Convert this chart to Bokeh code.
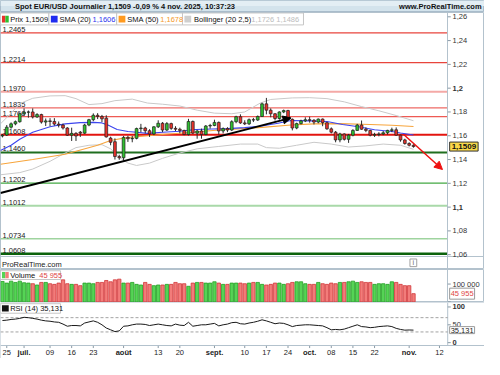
import pandas as pd
from bokeh.plotting import figure
from bokeh.layouts import column
from bokeh.models import Range1d, Label, Arrow, NormalHead, BoxAnnotation, ColumnDataSource
from bokeh.core.properties import value
from bokeh.embed import file_html
from bokeh.resources import INLINE

FONT = "Liberation Sans"
FS = "7.5px"

# ---------------- data ----------------
first_day = "2025-06-24"
axis_last_day = "2025-11-14"

opens = [1.1598, 1.1606, 1.1672, 1.1700, 1.1718, 1.1785, 1.1798, 1.1800, 1.1758, 1.1778,
         1.1715, 1.1725, 1.1720, 1.1698, 1.1690, 1.1665, 1.1605, 1.1620, 1.1630, 1.1622,
         1.1690, 1.1735, 1.1772, 1.1762, 1.1748, 1.1580, 1.1550, 1.1425, 1.1415, 1.1586,
         1.1575, 1.1578, 1.1660, 1.1665, 1.1642, 1.1615, 1.1675, 1.1705, 1.1648, 1.1702,
         1.1662, 1.1655, 1.1645, 1.1610, 1.1720, 1.1622, 1.1640, 1.1610, 1.1682, 1.1686,
         1.1712, 1.1640, 1.1660, 1.1648, 1.1718, 1.1760, 1.1708, 1.1700, 1.1735, 1.1732,
         1.1762, 1.1868, 1.1815, 1.1785, 1.1745, 1.1800, 1.1812, 1.1738, 1.1665, 1.1702,
         1.1725, 1.1735, 1.1730, 1.1715, 1.1740, 1.1710, 1.1658, 1.1630, 1.1565, 1.1615,
         1.1570, 1.1605, 1.1645, 1.1690, 1.1655, 1.1645, 1.1605, 1.1610, 1.1615, 1.1625,
         1.1645, 1.1650, 1.1605, 1.1565, 1.1535, 1.1520]
highs = [1.1615, 1.1690, 1.1712, 1.1728, 1.1790, 1.1830, 1.1812, 1.1830, 1.1790, 1.1785,
         1.1745, 1.1748, 1.1748, 1.1720, 1.1702, 1.1672, 1.1668, 1.1630, 1.1640, 1.1700,
         1.1742, 1.1788, 1.1790, 1.1775, 1.1772, 1.1592, 1.1578, 1.1440, 1.1598, 1.1600,
         1.1598, 1.1668, 1.1700, 1.1675, 1.1655, 1.1680, 1.1730, 1.1715, 1.1715, 1.1710,
         1.1680, 1.1668, 1.1650, 1.1742, 1.1728, 1.1650, 1.1660, 1.1690, 1.1700, 1.1735,
         1.1720, 1.1670, 1.1672, 1.1730, 1.1768, 1.1780, 1.1730, 1.1745, 1.1750, 1.1770,
         1.1878, 1.1918, 1.1830, 1.1790, 1.1805, 1.1820, 1.1818, 1.1745, 1.1710, 1.1735,
         1.1755, 1.1760, 1.1740, 1.1745, 1.1745, 1.1718, 1.1670, 1.1640, 1.1625, 1.1620,
         1.1615, 1.1655, 1.1700, 1.1728, 1.1670, 1.1650, 1.1625, 1.1630, 1.1640, 1.1650,
         1.1668, 1.1670, 1.1610, 1.1575, 1.1545, 1.1528]
lows = [1.1586, 1.1598, 1.1660, 1.1688, 1.1710, 1.1768, 1.1752, 1.1745, 1.1750, 1.1702,
        1.1682, 1.1680, 1.1685, 1.1670, 1.1652, 1.1598, 1.1556, 1.1556, 1.1590, 1.1615,
        1.1680, 1.1722, 1.1740, 1.1715, 1.1585, 1.1520, 1.1400, 1.1398, 1.1392, 1.1548,
        1.1545, 1.1570, 1.1630, 1.1620, 1.1590, 1.1605, 1.1665, 1.1630, 1.1640, 1.1650,
        1.1640, 1.1620, 1.1605, 1.1602, 1.1615, 1.1575, 1.1575, 1.1605, 1.1660, 1.1680,
        1.1610, 1.1620, 1.1630, 1.1640, 1.1705, 1.1700, 1.1690, 1.1690, 1.1715, 1.1725,
        1.1758, 1.1780, 1.1755, 1.1728, 1.1735, 1.1790, 1.1730, 1.1645, 1.1655, 1.1695,
        1.1715, 1.1710, 1.1695, 1.1705, 1.1680, 1.1650, 1.1620, 1.1545, 1.1545, 1.1560,
        1.1540, 1.1595, 1.1640, 1.1650, 1.1630, 1.1595, 1.1590, 1.1595, 1.1605, 1.1610,
        1.1630, 1.1600, 1.1550, 1.1525, 1.1510, 1.1500]
closes = [1.1604, 1.1672, 1.1700, 1.1718, 1.1785, 1.1798, 1.1800, 1.1758, 1.1778, 1.1715,
          1.1725, 1.1720, 1.1698, 1.1690, 1.1665, 1.1605, 1.1620, 1.1598, 1.1622, 1.1690,
          1.1735, 1.1772, 1.1762, 1.1742, 1.1590, 1.1545, 1.1425, 1.1415, 1.1586, 1.1575,
          1.1578, 1.1660, 1.1665, 1.1642, 1.1615, 1.1675, 1.1705, 1.1648, 1.1702, 1.1662,
          1.1655, 1.1645, 1.1610, 1.1720, 1.1622, 1.1640, 1.1610, 1.1682, 1.1686, 1.1712,
          1.1640, 1.1660, 1.1648, 1.1718, 1.1760, 1.1708, 1.1700, 1.1735, 1.1732, 1.1762,
          1.1868, 1.1815, 1.1785, 1.1745, 1.1800, 1.1812, 1.1738, 1.1665, 1.1702, 1.1725,
          1.1735, 1.1730, 1.1715, 1.1740, 1.1710, 1.1658, 1.1630, 1.1565, 1.1615, 1.1570,
          1.1605, 1.1645, 1.1690, 1.1655, 1.1645, 1.1605, 1.1610, 1.1615, 1.1625, 1.1645,
          1.1650, 1.1605, 1.1565, 1.1535, 1.1520, 1.1509]
volumes = [114600, 105500, 116400, 109200, 116400, 107400, 105500, 101900, 94700, 109200,
           109200, 101900, 98300, 105500, 123700, 101900, 98300, 98300, 91000, 105500,
           105500, 101900, 109200, 109200, 120100, 112800, 123700, 127600, 105500, 105500,
           109200, 98300, 94700, 109200, 98300, 91000, 94700, 94700, 98300, 98300,
           109200, 101900, 101900, 87400, 105500, 109200, 109200, 105500, 105500, 112800,
           105500, 98300, 98300, 105500, 105500, 105500, 101900, 105500, 109200, 109200,
           98300, 94700, 98300, 105500, 105500, 98300, 101900, 109200, 112800, 112800,
           101900, 98300, 98300, 109200, 101900, 98300, 105500, 101900, 109200, 109200,
           112800, 116400, 109200, 112800, 109200, 109200, 98300, 101900, 101900, 98300,
           112800, 109200, 98300, 91000, 91000, 45955]
rsi14 = [62, 63, 65, 66, 68, 71, 70, 68, 66, 63,
         61, 60, 58, 57, 52, 46, 48, 48, 47, 55,
         58, 61, 57, 50, 41, 36, 31, 33, 46, 47,
         50, 52, 52, 51, 48, 50, 52, 50, 48, 47,
         52, 49, 48, 57, 46, 48, 50, 50, 52, 54,
         47, 50, 52, 56, 57, 53, 52, 55, 57, 60,
         64, 61, 57, 53, 55, 54, 50, 45, 48, 49,
         50, 50, 49, 48, 47, 42, 36, 37, 36, 38,
         42, 46, 50, 45, 44, 42, 43, 45, 46, 47,
         45, 40, 37, 35, 35.5, 35.131]

# indicator curves (bar position, value)
sma20_x = [-0.45, 2, 4, 7, 11, 14.5, 18, 21, 23, 24.5, 26.5, 29, 31, 33.5, 37, 41, 44.7,
           48.4, 52, 56, 59.6, 63.7, 66.7, 71, 75, 78.6, 82.3, 86, 90, 92, 95]
sma20_y = [1.1475, 1.1520, 1.1570, 1.1630, 1.1675, 1.1700, 1.1710, 1.1712, 1.1708, 1.1688,
           1.1652, 1.1636, 1.1630, 1.1620, 1.1630, 1.1638, 1.1652, 1.1657, 1.1660, 1.1668,
           1.1680, 1.1705, 1.1728, 1.1725, 1.1720, 1.1695, 1.1676, 1.1650, 1.1636, 1.1623,
           1.1606]
sma50_x = [-0.45, 7, 14.5, 22, 25, 28, 31, 37, 44, 50, 55.5, 60, 66.7, 72, 78, 85, 90, 95]
sma50_y = [1.1360, 1.1400, 1.1445, 1.1520, 1.1560, 1.1580, 1.1592, 1.1610, 1.1630, 1.1648,
           1.1660, 1.1670, 1.1690, 1.1700, 1.1702, 1.1695, 1.1688, 1.1678]
boll_up_x = [-0.45, 2, 4, 7, 11, 14.5, 17, 20, 23, 26, 30, 33.5, 37, 41, 45, 49, 53, 56,
             59.6, 62, 67, 71, 75, 79, 83, 87, 91, 95]
boll_up_y = [1.1700, 1.1790, 1.1870, 1.1915, 1.1935, 1.1937, 1.1912, 1.1862, 1.1870, 1.1895,
             1.1908, 1.1875, 1.1865, 1.1850, 1.1815, 1.1790, 1.1785, 1.1800, 1.1875, 1.1905,
             1.1918, 1.1920, 1.1912, 1.1885, 1.1845, 1.1810, 1.1770, 1.1726]
boll_lo_x = [-0.45, 4, 7, 11, 14.5, 17, 20, 23, 25, 27, 29, 31, 34, 37, 41, 45, 50, 55,
             59, 61, 64, 68, 72, 76, 80, 84, 88, 92, 95]
boll_lo_y = [1.1272, 1.1290, 1.1320, 1.1385, 1.1455, 1.1500, 1.1520, 1.1525, 1.1490, 1.1420,
             1.1370, 1.1350, 1.1370, 1.1410, 1.1455, 1.1490, 1.1510, 1.1530, 1.1530, 1.1500,
             1.1495, 1.1520, 1.1545, 1.1530, 1.1505, 1.1515, 1.1530, 1.1520, 1.1486]

level_values = [1.2465, 1.2214, 1.1970, 1.1835, 1.1760, 1.1608, 1.1460, 1.1202, 1.1012,
                1.0734, 1.0608]
level_colors = ["#e8453c", "#e8453c", "#f4a9a6", "#ee6a64", "#ee5a54", "#e3140f",
                "#1f6e1f", "#43a843", "#a9d9a9", "#9fd49f", "#0b620b"]
level_widths = [1.3, 1.3, 2, 1.3, 1.3, 2, 2, 1.3, 2, 1.6, 2.5]

trend_x = [-0.45, 66.7]
trend_y = [1.1118, 1.1750]
proj_x = [92.8, 101.7]
proj_y = [1.1608, 1.1316]

price_ticks = [1.06, 1.08, 1.10, 1.12, 1.14, 1.16, 1.18, 1.20, 1.22, 1.24, 1.26]
price_tick_labels = ["1,06", "1,08", "1,1", "1,12", "1,14", "1,16", "1,18", "1,2", "1,22",
                     "1,24", "1,26"]
vol_ticks = [0, 100000]
vol_tick_labels = ["", "100 000"]
rsi_ticks = [0, 50, 100]
rsi_tick_labels = ["0", "50", "100"]
rsi_levels = [30, 70]

tick_dates = ["2025-06-25", "2025-07-01", "2025-07-09", "2025-07-16", "2025-07-23",
              "2025-08-01", "2025-08-13", "2025-08-20", "2025-09-01", "2025-09-10",
              "2025-09-17", "2025-09-24", "2025-10-01", "2025-10-08", "2025-10-15",
              "2025-10-22", "2025-11-03", "2025-11-12"]
tick_labels = ["25", "juil.", "09", "16", "23", "août", "13", "20", "sept.", "10", "17",
               "24", "oct.", "08", "15", "22", "nov.", "12"]
month_names = ["juil.", "août", "sept.", "oct.", "nov."]

last_price = 1.1509
sma20_last = 1.1606
sma50_last = 1.1678
boll_last = (1.1726, 1.1486)
vol_last = 45955
rsi_last = 35.131

# ---------------- helpers ----------------
def fmt(v, d):
    return f"{v:.{d}f}".replace(".", ",")

def fmt_vol(v):
    return f"{v:,}".replace(",", " ")

trading = pd.bdate_range(first_day, axis_last_day)
pos = {d.strftime("%Y-%m-%d"): i for i, d in enumerate(trading)}
n = len(opens)
xs = list(range(n))

# reference-pixel -> data helpers (annotation placement only)
def rx(x):
    return (x - 2) / 4.47

def rp(y):
    return 1.26 - (y - 17.5) / 1245

def rv(y):
    return (315.3 - y) / 18.3 * 100000

def rr(y):
    return (358.3 - y) / 0.376

W = 484
XR = Range1d(rx(0), rx(500))
XA = rx(462)          # position of the value axis
OUT = "#b3c2cd"
AXC = "#333333"
TICKC = "#8a9aa6"

GREEN, RED = "#2fbf2f", "#e8322c"
VGREEN, VGREEN_L = "#55d455", "#24a024"
VRED, VRED_L = "#f27c7a", "#d2373a"


def make_fig(h, yr, xr=XR):
    f = figure(frame_width=W, frame_height=h, x_range=xr, y_range=yr,
               output_backend="svg", toolbar_location=None,
               x_axis_location=None, y_axis_location=None,
               min_border_left=0, min_border_right=0, min_border_top=0,
               min_border_bottom=0, outline_line_color=OUT,
               background_fill_color="white", border_fill_color="white")
    f.grid.visible = False
    return f


def value_axis(f, ticks, labels, styles, y0=None, y1=None):
    if y0 is None:
        f.vspan(x=[XA], line_color=OUT, line_width=1)
    else:
        f.segment(x0=[XA], x1=[XA], y0=[y0], y1=[y1], line_color=OUT, line_width=1)
    k = len(ticks)
    f.segment(x0=[XA] * k, x1=[XA + 0.7] * k, y0=ticks, y1=ticks,
              line_color=TICKC, line_width=1)
    f.text(x=[XA + 1.1] * k, y=ticks, text=labels, text_baseline="middle",
           text_align="left", text_font=value(FONT), text_font_size=value(FS),
           text_font_style=styles, text_color=AXC)


def lab(f, x, y, text, color="#111111", bold=False, align="left", size=FS, **kw):
    f.add_layout(Label(x=x, y=y, text=text, text_font=FONT, text_font_size=size,
                       text_color=color, text_font_style="bold" if bold else "normal",
                       text_align=align, text_baseline="middle", **kw))


def box(f, l, r, t, b, fill="white", line="#c6c6c6"):
    f.add_layout(BoxAnnotation(left=l, right=r, top=t, bottom=b, fill_color=fill,
                               fill_alpha=1, line_color=line, line_alpha=1 if line else 0,
                               line_width=1))

# ---------------- header ----------------
hdr = make_fig(12, Range1d(13, 0), xr=Range1d(0, 500))
hdr.background_fill_color = "#d3e3ec"
hdr.outline_line_color = "#a9bccb"
box(hdr, 0, 500, 0, 6, fill="#e3eef4", line=None)
lab(hdr, 15, 6.8, f"Spot EUR/USD Journalier {fmt(last_price, 4)} -0,09 % 4 nov. 2025, 10:37:23",
    bold=True)
lab(hdr, 497, 6.8, "www.ProRealTime.com", bold=True, align="right")

# ---------------- price panel (incl. the bottom strip) ----------------
src = ColumnDataSource(dict(
    x=xs, h=highs, l=lows,
    top=[max(o, c) for o, c in zip(opens, closes)],
    bot=[min(o, c) for o, c in zip(opens, closes)],
    color=[GREEN if c >= o else RED for o, c in zip(opens, closes)],
    vol=volumes,
    vfill=[VGREEN if c >= o else VRED for o, c in zip(opens, closes)],
    vline=[VGREEN_L if c >= o else VRED_L for o, c in zip(opens, closes)],
    rsi=rsi14,
))

price = make_fig(257, Range1d(rp(282), rp(13)))
nl = len(level_values)
price.segment(x0=[XR.start] * nl, x1=[XA] * nl, y0=level_values, y1=level_values,
              line_color=level_colors, line_width=level_widths)
price.text(x=[XR.start] * nl, y=level_values,
           text=[fmt(v, 4) for v in level_values], x_offset=2, y_offset=-1,
           text_baseline="bottom", text_font=value(FONT), text_font_size=value(FS),
           text_color="#1a1a1a")
price.hspan(y=[rp(268)], line_color=OUT, line_width=1)
value_axis(price, price_ticks, price_tick_labels,
           ["bold" if lbl in ("1,1", "1,2") else "normal" for lbl in price_tick_labels])

price.line(boll_up_x, boll_up_y, line_color="#c9c9c9", line_width=1)
price.line(boll_lo_x, boll_lo_y, line_color="#c9c9c9", line_width=1)
price.line(sma50_x, sma50_y, line_color="#f7a53c", line_width=1.1)
price.line(sma20_x, sma20_y, line_color="#3d45ee", line_width=1.1)

price.segment("x", "h", "x", "l", source=src, line_color="#2a2a2a", line_width=1)
price.vbar(x="x", width=0.64, top="top", bottom="bot", fill_color="color",
           line_color="#1e1e1e", line_width=0.7, source=src)

price.add_layout(Arrow(end=NormalHead(size=8, fill_color="black", line_color="black"),
                       x_start=trend_x[0], y_start=trend_y[0],
                       x_end=trend_x[1], y_end=trend_y[1],
                       line_color="black", line_width=2))
price.add_layout(Arrow(end=NormalHead(size=8, fill_color="#ee1111", line_color="#ee1111"),
                       x_start=proj_x[0], y_start=proj_y[0],
                       x_end=proj_x[1], y_end=proj_y[1],
                       line_color="#ee1111", line_width=1.5))

# legend row
box(price, rx(0), rx(50), rp(13.5), rp(26))
box(price, rx(50), rx(120), rp(13.5), rp(26))
box(price, rx(120), rx(188), rp(13.5), rp(26))
box(price, rx(188), rx(313), rp(13.5), rp(26))
box(price, rx(1.5), rx(5), rp(16.5), rp(23.5), fill=RED, line=None)
box(price, rx(5), rx(8.5), rp(16.5), rp(23.5), fill=GREEN, line=None)
box(price, rx(52), rx(59), rp(16.5), rp(23.5), fill="#1f2cf0", line=None)
box(price, rx(122), rx(129), rp(16.5), rp(23.5), fill="#ff9a1f", line=None)
box(price, rx(190), rx(197), rp(16.5), rp(23.5), fill="#cfcfcf", line=None)
ly = rp(20)
lab(price, rx(10), ly, f"Prix {fmt(last_price, 4)}")
lab(price, rx(61), ly, "SMA (20)")
lab(price, rx(95), ly, fmt(sma20_last, 4), color="#2b35ee")
lab(price, rx(131), ly, "SMA (50)")
lab(price, rx(165), ly, fmt(sma50_last, 4), color="#f59a2a")
lab(price, rx(200), ly, "Bollinger (20 2,5)")
lab(price, rx(259), ly, f"{fmt(boll_last[0], 4)} {fmt(boll_last[1], 4)}", color="#bdbdbd")

# last price tag
lab(price, rx(464), last_price, fmt(last_price, 4), bold=True, size="8px",
    background_fill_color="#f8d84a", border_line_color="#333333", padding=2)

# bottom strip
lab(price, rx(1.5), rp(276.5), "ProRealTime.com", color="#222222")
box(price, rx(423), rx(430), rp(271), rp(279), fill="white", line="#a0a0a0")
lab(price, rx(426.5), rp(275), "i", color="#666666", align="center", size="7px")

# ---------------- volume panel ----------------
vol = make_fig(33, Range1d(rv(316), rv(282)))
value_axis(vol, vol_ticks, vol_tick_labels, ["normal"] * len(vol_ticks))
vol.vbar(x="x", width=0.78, top="vol", bottom=0, fill_color="vfill", line_color="vline",
         line_width=0.8, source=src)
box(vol, rx(0), rx(62), rv(283.3), rv(292.3))
box(vol, rx(1.5), rx(5), rv(284.6), rv(291), fill=VGREEN, line=None)
box(vol, rx(5), rx(8.5), rv(284.6), rv(291), fill=VRED, line=None)
lab(vol, rx(10), rv(287.8), "Volume")
lab(vol, rx(40), rv(287.8), fmt_vol(vol_last), color="#e04545")
lab(vol, rx(464), vol_last, fmt_vol(vol_last), color="#e04545",
    background_fill_color="white", border_line_color="#9a9a9a", padding=1)

# ---------------- RSI panel (incl. date axis) ----------------
rsi = make_fig(56, Range1d(rr(375), rr(316)))
rsi.outline_line_color = None
rsi.hspan(y=[rr(316)], line_color=OUT, line_width=1)
rsi.hspan(y=[rr(361.7)], line_color=OUT, line_width=1)
rsi.vspan(x=[XR.start], line_color=OUT, line_width=1)
value_axis(rsi, rsi_ticks, rsi_tick_labels,
           ["normal" if t == 50 else "bold" for t in rsi_ticks],
           y0=rr(361.7), y1=rr(316))

nlev = len(rsi_levels)
rsi.segment(x0=[XR.start] * nlev, x1=[XA] * nlev, y0=rsi_levels, y1=rsi_levels,
            line_color="#a3a3a3", line_dash="3 2", line_width=1)
rsi.line("x", "rsi", source=src, line_color="#1a1a1a", line_width=1)
box(rsi, rx(0), rx(62), rr(317.3), rr(327.3))
box(rsi, rx(1.5), rx(8.5), rr(318.8), rr(325.5), fill="#111111", line=None)
lab(rsi, rx(10), rr(322.3), f"RSI (14) {fmt(rsi_last, 3)}")
lab(rsi, rx(464), rsi_last, fmt(rsi_last, 3), color="#222222",
    background_fill_color="white", border_line_color="#9a9a9a", padding=1)

# date axis
tick_idx = [pos[d] for d in tick_dates]
nt = len(tick_idx)
rsi.segment(x0=tick_idx, x1=tick_idx, y0=[rr(361.7)] * nt, y1=[rr(364)] * nt,
            line_color=TICKC, line_width=1)
rsi.text(x=tick_idx, y=[rr(369)] * nt, text=tick_labels, text_align="center",
         text_baseline="middle", text_font=value(FONT), text_font_size=value(FS),
         text_font_style=["bold" if t in month_names else "normal" for t in tick_labels],
         text_color="#222222")

layout = column(hdr, price, vol, rsi, spacing=0)
open("out.html", "w").write(file_html(layout, INLINE))
